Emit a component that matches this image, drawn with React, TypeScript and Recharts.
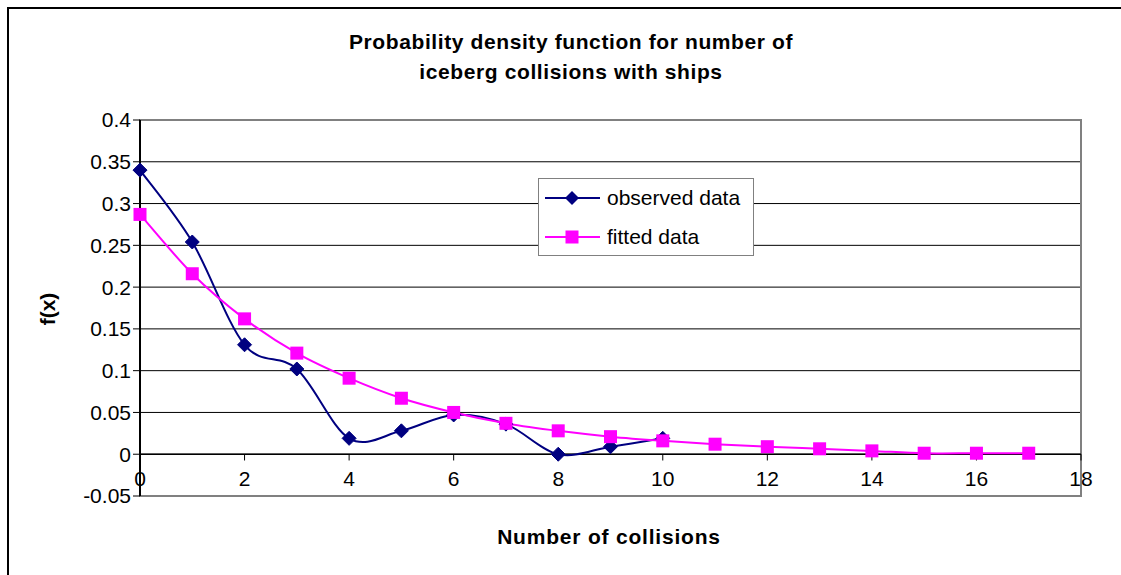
import React from 'react';
import { LineChart, Line, XAxis, YAxis, CartesianGrid, ReferenceLine, ReferenceArea, Legend } from 'recharts';

const collisions = [0, 1, 2, 3, 4, 5, 6, 7, 8, 9, 10, 11, 12, 13, 14, 15, 16, 17];
const observedData = [0.34, 0.254, 0.131, 0.102, 0.019, 0.028, 0.047, 0.036, 0.0, 0.009, 0.019];
const fittedData = [0.287, 0.216, 0.162, 0.121, 0.091, 0.067, 0.05, 0.037, 0.028, 0.021, 0.016, 0.012, 0.009, 0.0065, 0.004, 0.0012, 0.0012, 0.0012];
const xTicks = [0, 2, 4, 6, 8, 10, 12, 14, 16, 18];
const yTicks = [-0.05, 0, 0.05, 0.1, 0.15, 0.2, 0.25, 0.3, 0.35, 0.4];
const seriesOrder = ['observed', 'fitted'];
const seriesNames = { observed: 'observed data', fitted: 'fitted data' };
const titleLines = ['Probability density function for number of', 'iceberg collisions with ships'];
const xTitle = 'Number of collisions';
const yTitle = 'f(x)';

const data = collisions.map((x, i) => ({
  x,
  observed: i < observedData.length ? observedData[i] : null,
  fitted: fittedData[i],
}));

const NAVY = '#000080';
const MAGENTA = '#FF00FF';
const FONT = '"Liberation Sans", Arial, sans-serif';

function smoothCurve(context: any) {
  let pts: number[][] = [];
  return {
    areaStart() {},
    areaEnd() {},
    lineStart() {
      pts = [];
    },
    point(x: number, y: number) {
      pts.push([+x, +y]);
    },
    lineEnd() {
      const n = pts.length;
      if (!n) return;
      context.moveTo(pts[0][0], pts[0][1]);
      for (let i = 0; i < n - 1; i++) {
        const p0 = pts[Math.max(i - 1, 0)];
        const p1 = pts[i];
        const p2 = pts[i + 1];
        const p3 = pts[Math.min(i + 2, n - 1)];
        context.bezierCurveTo(
          p1[0] + (p2[0] - p0[0]) / 6,
          p1[1] + (p2[1] - p0[1]) / 6,
          p2[0] - (p3[0] - p1[0]) / 6,
          p2[1] - (p3[1] - p1[1]) / 6,
          p2[0],
          p2[1]
        );
      }
    },
  };
}

const DiamondDot = (props: any) => {
  const { cx, cy, index, value } = props;
  if (cx == null || cy == null || value == null) return <g key={`d${index}`} />;
  const r = 7;
  return (
    <polygon
      key={`d${index}`}
      points={`${cx},${cy - r} ${cx + r},${cy} ${cx},${cy + r} ${cx - r},${cy}`}
      fill={NAVY}
      stroke={NAVY}
      strokeWidth={1}
    />
  );
};

const SquareDot = (props: any) => {
  const { cx, cy, index, value } = props;
  if (cx == null || cy == null || value == null) return <g key={`s${index}`} />;
  const s = 13;
  return <rect key={`s${index}`} x={cx - s / 2} y={cy - s / 2} width={s} height={s} fill={MAGENTA} />;
};

const LegendBox = (props: any) => {
  const payload = [...(props.payload || [])].sort(
    (a: any, b: any) => seriesOrder.indexOf(a.dataKey) - seriesOrder.indexOf(b.dataKey)
  );
  return (
    <div
      style={{
        width: 216,
        height: 78,
        boxSizing: 'border-box',
        border: '1.5px solid #808080',
        background: '#fff',
        position: 'relative',
        fontFamily: FONT,
        fontSize: 21,
      }}
    >
      {payload.map((p: any, i: number) => {
        const color = p.dataKey === 'observed' ? NAVY : MAGENTA;
        return (
          <div key={i} style={{ position: 'absolute', left: 0, top: 19 + i * 39 - 13, height: 26, width: 216 }}>
            <svg width={60} height={26} style={{ position: 'absolute', left: 6, top: 0 }}>
              <line x1={0} y1={13} x2={55} y2={13} stroke={color} strokeWidth={2} />
              {p.dataKey === 'observed' ? (
                <polygon points="27,6 34,13 27,20 20,13" fill={color} />
              ) : (
                <rect x={20.5} y={6.5} width={13} height={13} fill={color} />
              )}
            </svg>
            <span style={{ position: 'absolute', left: 68, top: 0, lineHeight: '26px', color: '#000', whiteSpace: 'nowrap' }}>
              {p.value}
            </span>
          </div>
        );
      })}
    </div>
  );
};

export default function App() {
  return (
    <div style={{ position: 'absolute', left: 0, top: 0, width: 1121, height: 575, overflow: 'hidden', background: '#fff' }}>
      <div
        style={{
          position: 'absolute',
          left: 7,
          top: 7,
          width: 1130,
          height: 580,
          borderLeft: '2px solid #000',
          borderTop: '2px solid #000',
        }}
      />
      <div style={{ position: 'absolute', left: 0, top: 0 }}>
        <LineChart width={1121} height={575} data={data} margin={{ top: 120, right: 40, bottom: 79, left: 0 }}>
          <ReferenceArea x1={0} x2={18} y1={-0.05} y2={0.4} fill="none" stroke="#808080" strokeWidth={2} ifOverflow="visible" />
          <CartesianGrid horizontal vertical={false} stroke="#000" strokeWidth={1} />
          <XAxis
            dataKey="x"
            type="number"
            domain={[0, 18]}
            ticks={xTicks}
            mirror
            axisLine={false}
            tickLine={false}
            tickMargin={4}
            height={30}
            tick={{ fill: '#000', fontSize: 21, fontFamily: FONT }}
            interval={0}
          />
          <YAxis
            type="number"
            domain={[-0.05, 0.4]}
            ticks={yTicks}
            width={140}
            tickSize={7}
            tickMargin={2}
            axisLine={{ stroke: '#000', strokeWidth: 2 }}
            tickLine={{ stroke: '#000', strokeWidth: 1 }}
            tick={{ fill: '#000', fontSize: 21, fontFamily: FONT }}
            tickFormatter={(v: number) => String(v)}
            interval={0}
            allowDataOverflow
          />
          <ReferenceLine y={0} stroke="#000" strokeWidth={1.5} />
          {xTicks.map((t) => (
            <ReferenceLine
              key={`tk${t}`}
              segment={[
                { x: t, y: 0 },
                { x: t, y: -0.0075 },
              ]}
              stroke="#000"
              strokeWidth={1}
              ifOverflow="visible"
            />
          ))}
          <Legend
            layout="vertical"
            align="center"
            verticalAlign="middle"
            content={<LegendBox />}
            wrapperStyle={{ position: 'absolute', left: 538, top: 178, width: 216, height: 78 }}
          />
          <Line
            dataKey="observed"
            name={seriesNames.observed}
            type={smoothCurve as any}
            stroke={NAVY}
            strokeWidth={2}
            dot={DiamondDot}
            activeDot={false}
            isAnimationActive={false}
            connectNulls={false}
          />
          <Line
            dataKey="fitted"
            name={seriesNames.fitted}
            type={smoothCurve as any}
            stroke={MAGENTA}
            strokeWidth={2}
            dot={SquareDot}
            activeDot={false}
            isAnimationActive={false}
          />
        </LineChart>
      </div>
      <div
        style={{
          position: 'absolute',
          left: 221,
          top: 27,
          width: 700,
          textAlign: 'center',
          fontFamily: FONT,
          fontWeight: 'bold',
          fontSize: 21,
          lineHeight: '30px',
          letterSpacing: 0.6,
          color: '#000',
        }}
      >
        {titleLines.map((l, i) => (
          <div key={i}>{l}</div>
        ))}
      </div>
      <div
        style={{
          position: 'absolute',
          left: 409,
          top: 524,
          width: 400,
          textAlign: 'center',
          fontFamily: FONT,
          fontWeight: 'bold',
          fontSize: 21,
          lineHeight: '26px',
          letterSpacing: 0.8,
          color: '#000',
        }}
      >
        {xTitle}
      </div>
      <div
        style={{
          position: 'absolute',
          left: -2,
          top: 296,
          width: 100,
          height: 26,
          textAlign: 'center',
          fontFamily: FONT,
          fontWeight: 'bold',
          fontSize: 21,
          lineHeight: '26px',
          color: '#000',
          transform: 'rotate(-90deg)',
        }}
      >
        {yTitle}
      </div>
    </div>
  );
}
